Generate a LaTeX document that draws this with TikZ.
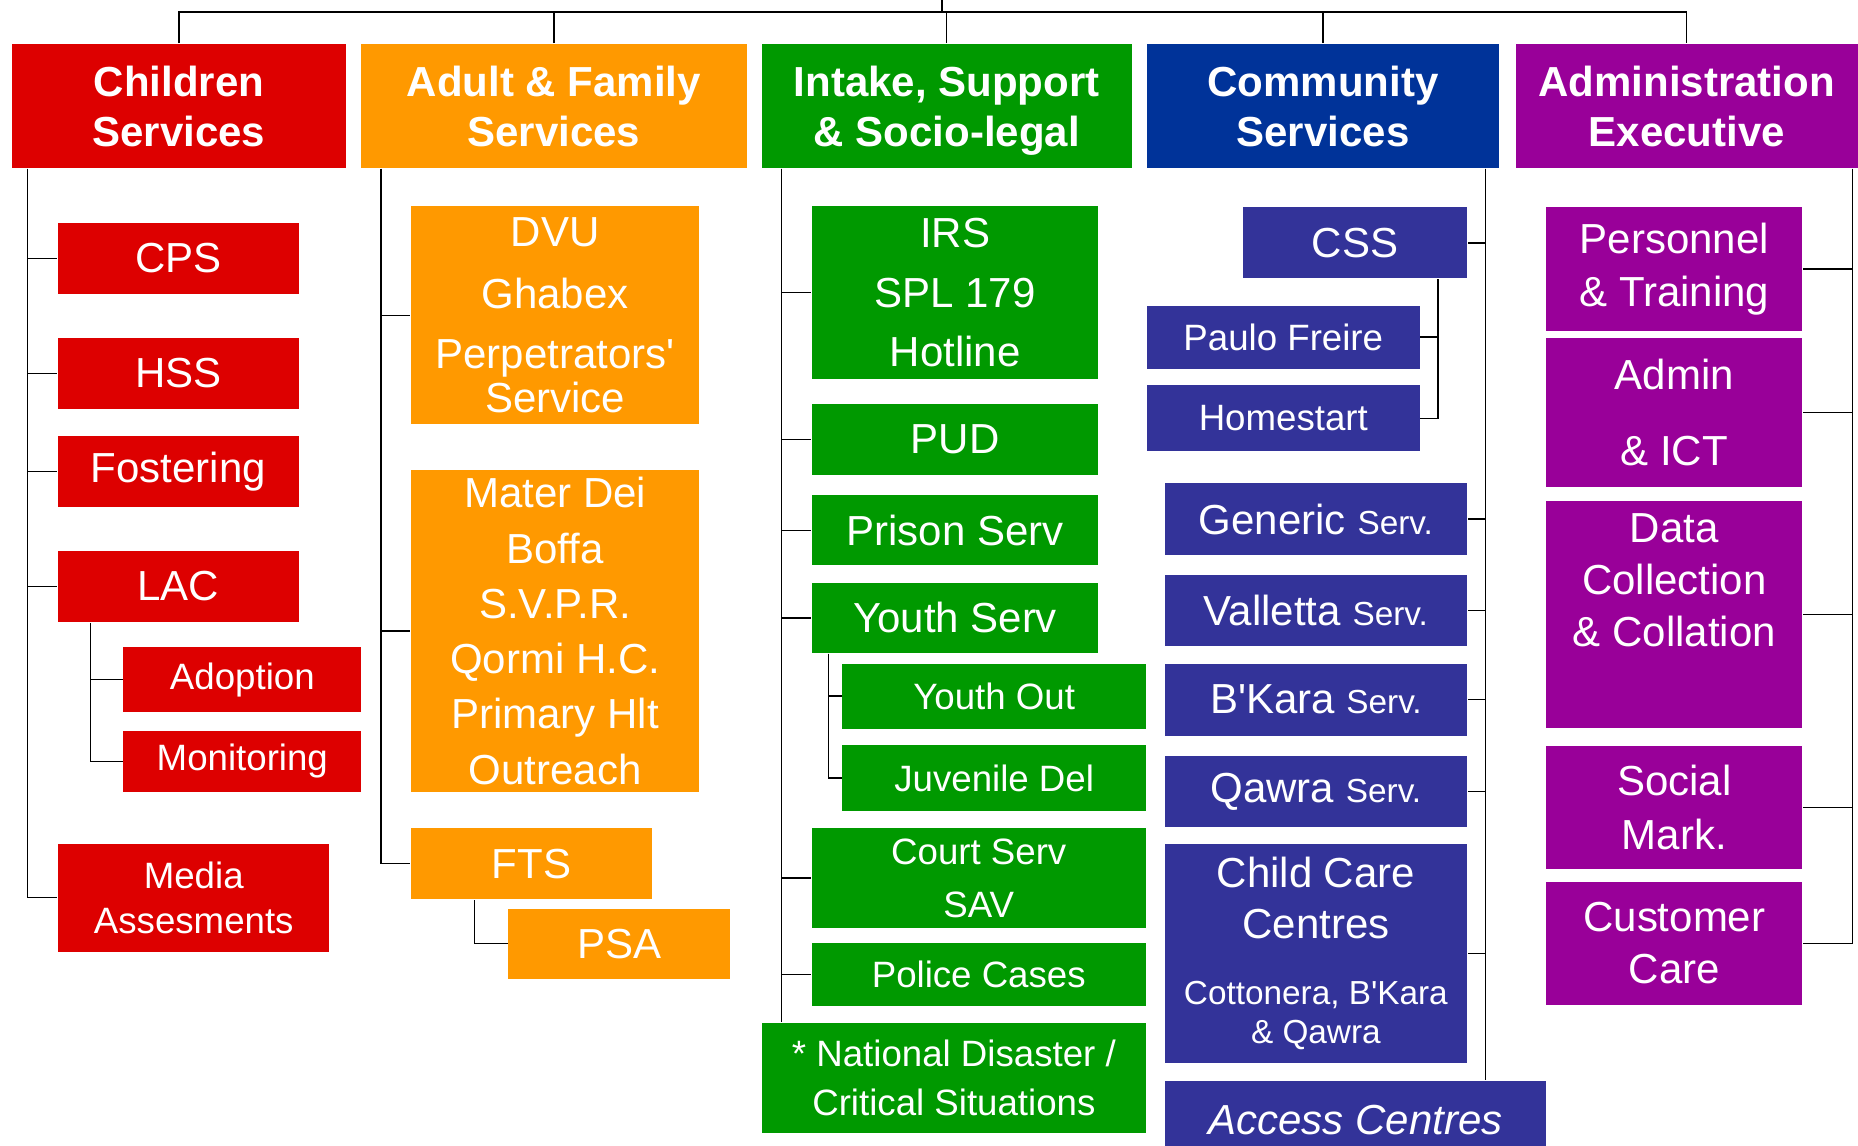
\documentclass[tikz,border=0pt]{standalone}
\usepackage{fontspec}
\setmainfont{Liberation Sans}
\usepackage{tikz}
\definecolor{cred}{HTML}{DD0000}
\definecolor{corange}{HTML}{FF9900}
\definecolor{cgreen}{HTML}{009900}
\definecolor{cnavy}{HTML}{003399}
\definecolor{cblue}{HTML}{333399}
\definecolor{cpurple}{HTML}{990099}
\tikzset{
	-,
	line width=0.8pt,
	head/.style={fill=#1, text=white, font=\bfseries\fontsize{12.6}{15}\selectfont, align=center, inner sep=0pt},
	sub/.style={fill=#1, text=white, font=\fontsize{12.6}{16.6}\selectfont, align=center, inner sep=0pt},
	sm/.style={font=\fontsize{11}{13.5}\selectfont},
	wh/.style 2 args={minimum width=#1cm, minimum height=#2cm},
}
\newcommand\srv{{\fontsize{10}{12}\selectfont Serv.}}

\begin{document}
\begin{tikzpicture}[
            x=0.0125cm,
            y=-0.0125cm
        ]
        \useasboundingbox (0,0) rectangle (1568,967);
        \node[head=cred, wh={3.525}{1.3125}] (hChild) at (151,89.5) {Children\\Services};
        \node[head=corange, wh={4.0625}{1.3125}] (hAdult) at (467.5,89.5) {Adult \& Family\\Services};
        \node[head=cgreen, wh={3.9}{1.3125}] (hIntake) at (799,89.5) {\mbox{}\\[-2.8pt]Intake, Support\\\& Socio-legal};
        \node[head=cnavy, wh={3.7125}{1.3125}] (hComm) at (1116.5,89.5) {Community\\Services};
        \node[head=cpurple, wh={3.6125}{1.3125}] (hAdmin) at (1423.5,89.5) {Administration\\Executive};

        \node[sub=cred, wh={2.5375}{.75}] (cps) at (150.5,218) {CPS};
        \node[sub=cred, wh={2.5375}{.75}] (hss) at (150.5,315) {HSS};
        \node[sub=cred, wh={2.5375}{.75}] (fost) at (150.5,398) {Fostering};
        \node[sub=cred, wh={2.5375}{.75}] (lac) at (150.5,495) {LAC};
        \node[sub=cred, sm, wh={2.5125}{.6875}] (adopt) at (204.5,573.5) {Adoption};
        \node[sub=cred, sm, wh={2.5125}{.6375}] (monit) at (204.5,642.5) {Monitoring};
        \node[sub=cred, sm, wh={2.8625}{1.1375}] (media) at (163.5,757.5) {Media\\Assesments};

        \node[sub=corange, wh={3.0375}{2.3}] (dvu) at (468.5,266) {DVU\\[2pt]Ghabex\\[1.2pt]Perpetrators\textquotesingle\\[-3.4pt]Service};
        \node[sub=corange, wh={3.0375}{3.3875}] (mater) at (468.5,532.5) {Mater Dei\\Boffa\\S.V.P.R.\\Qormi H.C.\\Primary Hlt\\Outreach};
        \node[sub=corange, wh={2.5375}{.75}] (fts) at (448.5,729) {FTS};
        \node[sub=corange, wh={2.3375}{.7375}] (psa) at (522.5,796.5) {PSA};

        \node[sub=cgreen, wh={3.025}{1.825}] (irs) at (806,247) {IRS\\[1.2pt]SPL 179\\[1.2pt]Hotline};
        \node[sub=cgreen, wh={3.025}{.75}] (pud) at (806,371) {PUD};
        \node[sub=cgreen, wh={3.025}{.7375}] (prison) at (806,447.5) {Prison Serv};
        \node[sub=cgreen, wh={3.025}{.7375}] (youth) at (806,521.5) {Youth Serv};
        \node[sub=cgreen, sm, wh={3.2}{.6875}] (yout) at (839,587.5) {Youth Out};
        \node[sub=cgreen, sm, wh={3.2}{.6875}] (juv) at (839,656.5) {Juvenile Del};
        \node[sub=cgreen, sm, wh={3.525}{1.05}] (court) at (826,741) {Court Serv\\[2.5pt]SAV};
        \node[sub=cgreen, sm, wh={3.525}{.6625}] (police) at (826,822.5) {Police Cases};
        \node[sub=cgreen, sm, wh={4.05}{1.1625}] (natl) at (805,909.5) {* National Disaster /\\[1.1pt]Critical Situations};

        \node[sub=cblue, wh={2.3625}{.75}] (css) at (1143.5,205) {CSS};
        \node[sub=cblue, sm, wh={2.875}{.6625}] (paulo) at (1083,284.5) {Paulo Freire};
        \node[sub=cblue, sm, wh={2.875}{.7}] (home) at (1083,353) {Homestart};
        \node[sub=cblue, wh={3.1875}{.75}] (generic) at (1110.5,438) {Generic \srv};
        \node[sub=cblue, wh={3.1875}{.75}] (valletta) at (1110.5,515) {Valletta \srv};
        \node[sub=cblue, wh={3.1875}{.7625}] (bkara) at (1110.5,590.5) {B\textquotesingle Kara \srv};
        \node[sub=cblue, wh={3.1875}{.75}] (qawra) at (1110.5,668) {Qawra \srv};
        \node[sub=cblue, wh={3.1875}{2.3125}] (ccc) at (1110.5,804.5) {Child Care\\[-1.3pt]Centres\\[3pt]{\fontsize{10}{12}\selectfont Cottonera, B\textquotesingle Kara}\\[-4.9pt]{\fontsize{10}{12}\selectfont \& Qawra}};
        \node[sub=cblue, wh={4.025}{.825}] (access) at (1144,945) {\itshape Access Centres};

        \node[sub=cpurple, wh={2.7}{1.3}] (pers) at (1413,227) {Personnel\\[-.6pt]\& Training};
        \node[sub=cpurple, wh={2.7}{1.575}] (adm) at (1413,348) {Admin\\[6.2pt]\& ICT};
        \node[sub=cpurple, wh={2.7}{2.3875}] (data) at (1413,518.5) {Data\\[-1pt]Collection\\[-1pt]\& Collation\\[4pt]\mbox{}};
        \node[sub=cpurple, wh={2.7}{1.2875}] (social) at (1413,681.5) {Social\\[-.6pt]Mark.};
        \node[sub=cpurple, wh={2.7}{1.3}] (cust) at (1413,796) {Customer\\[-1pt]Care};

        \coordinate (top) at (795,0);
        \coordinate (bus) at (795,10);
        \draw (top) -- (bus);
        \draw (hChild.north) |- (bus) -| (hAdmin.north);
        \foreach \h in {hAdult,hIntake,hComm}
            \draw (\h.north) -- (\h.north |- bus);

        \foreach \n in {cps,hss,fost,lac,media}
            \draw ([xshift=.175cm]hChild.south west) |- (\n.west);
        \foreach \n in {adopt,monit}
            \draw ([xshift=.35cm]lac.south west) |- (\n.west);
        \foreach \n in {dvu,mater,fts}
            \draw ([xshift=.2125cm]hAdult.south west) |- (\n.west);
        \draw ([xshift=.675cm]fts.south west) |- (psa.west);
        \foreach \n in {irs,pud,prison,youth,court,police}
            \draw ([xshift=.2125cm]hIntake.south west) |- (\n.west);
        \draw ([xshift=.2125cm]hIntake.south west) -- ([xshift=.2125cm]hIntake.south west |- natl.north);
        \foreach \n in {yout,juv}
            \draw ([xshift=.1875cm]youth.south west) |- (\n.west);
        \foreach \n in {css,generic,valletta,bkara,qawra,ccc}
            \draw ([xshift=-.15cm]hComm.south east) |- (\n.east);
        \draw ([xshift=-.15cm]hComm.south east) -- ([xshift=-.15cm]hComm.south east |- access.north);
        \foreach \n in {paulo,home}
            \draw ([xshift=-.3125cm]css.south east) |- (\n.east);
        \foreach \n in {pers,adm,data,social,cust}
            \draw ([xshift=-.0625cm]hAdmin.south east) |- (\n.east);
    \end{tikzpicture}
\end{document}
